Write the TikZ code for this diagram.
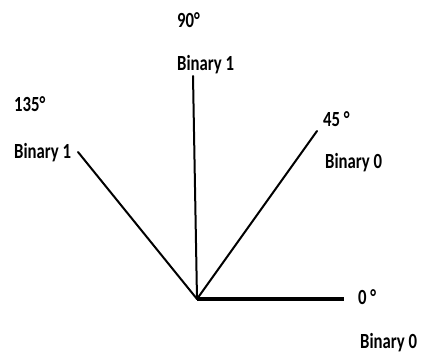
\documentclass[tikz,border=0pt]{standalone}
\usepackage{fontspec}
\setmainfont{Carlito}
\tikzset{
  lbl/.style={anchor=base west, inner sep=0pt, font=\bfseries\fontsize{18}{20}\selectfont},
  ray/.style={line width=2pt, line cap=round}
}
\newcommand{\tallt}[1]{\scalebox{0.93}[1.2]{#1}}
\begin{document}
\begin{tikzpicture}[x=1pt,y=-1pt]
\useasboundingbox (0,0) rectangle (422,358);
\coordinate (o) at (197,299);
\coordinate (e0) at (344,299);
\coordinate (e45) at (317,131);
\coordinate (e90) at (193,76);
\coordinate (e135) at (78,152);
\draw[ray, line width=3.4pt, line cap=butt] (o) -- (e0);
\draw[ray] (o) -- (e45);
\draw[ray] (o) -- (e90);
\draw[ray] (o) -- (e135);
\node[lbl] (t90) at (177,28) {\tallt{90°}};
\node[lbl] (b90) at (177,71) {\tallt{Binary 1}};
\node[lbl] (t135) at (14,112) {\tallt{135°}};
\node[lbl] (b135) at (14,158) {\tallt{Binary 1}};
\node[lbl] (t45) at (323,127) {\tallt{45 °}};
\node[lbl] (b45) at (325,168) {\tallt{Binary 0}};
\node[lbl] (t0) at (358,304) {\tallt{0 °}};
\node[lbl] (b0) at (360,348) {\tallt{Binary 0}};
\end{tikzpicture}
\end{document}
